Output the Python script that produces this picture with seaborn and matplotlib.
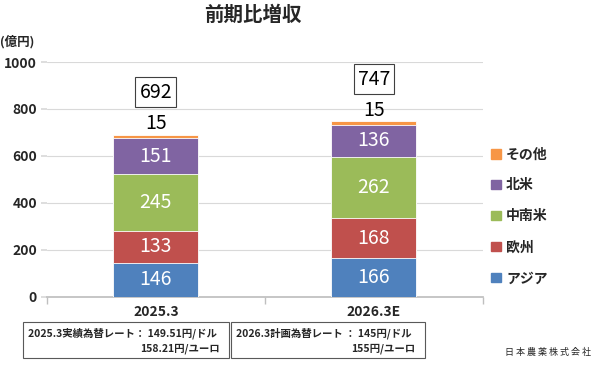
import pandas as pd
import seaborn as sns
import matplotlib.pyplot as plt
from matplotlib.patches import Rectangle, Patch

# data
periods = ['2025.3', '2026.3E']
regions = ['アジア', '欧州', '中南米', '北米', 'その他']
asia = [146, 166]
europe = [133, 168]
latam = [245, 262]
namerica = [151, 136]
other = [15, 15]
totals = [692, 747]
colors = ['#4F81BD', '#C0504D', '#9BBB59', '#8064A2', '#F79646']

sns.set_theme(style='white')
plt.rcParams['font.family'] = ['Noto Sans CJK JP', 'DejaVu Sans']

fig = plt.figure(figsize=(6, 3.67), dpi=100)
ax = fig.add_axes([0.078, 0.191, 0.727, 0.64])

values = [asia, europe, latam, namerica, other]
df = pd.DataFrame({'period': periods})
for name, v in zip(regions, values):
    df[name] = v
cum = df[regions].cumsum(axis=1)

# stacked bars: draw cumulative totals from the top segment down
for i in reversed(range(len(regions))):
    part = pd.DataFrame({'period': periods, 'y': cum[regions[i]]})
    sns.barplot(data=part, x='period', y='y', color=colors[i], saturation=1,
                width=0.39, edgecolor='white', linewidth=0.6, ax=ax, zorder=3)

# segment labels
for j in range(len(periods)):
    for i in range(len(regions) - 1):
        v = values[i][j]
        base = cum[regions[i]][j] - v
        ax.text(j, base + v / 2, str(v), ha='center', va='center',
                color='white', fontsize=14, zorder=5)
    ax.text(j, cum[regions[-1]][j] + 4, str(other[j]), ha='center',
            va='bottom', color='black', fontsize=14, zorder=5)
    ax.text(j, totals[j] + 180, str(totals[j]), ha='center', va='center',
            fontsize=14, color='black', zorder=5,
            bbox=dict(boxstyle='square,pad=0.22', fc='white', ec='#404040', lw=0.8))

ax.set_ylim(0, 1000)
ax.set_xlim(-0.5, 1.5)
ax.set_yticks(range(0, 1001, 200))
ax.set_xlabel('')
ax.set_ylabel('')
ax.yaxis.grid(True, color='#D9D9D9', lw=0.8)
ax.set_axisbelow(True)
for s in ['left', 'right', 'top']:
    ax.spines[s].set_visible(False)
ax.spines['bottom'].set_color('#BFBFBF')
ax.tick_params(axis='y', left=True, length=4, color='#D9D9D9', labelsize=10, pad=3)
ax.tick_params(axis='x', length=0, labelsize=10, pad=6)
ax.set_xticks([-0.5, 0.5, 1.5], minor=True)
ax.tick_params(axis='x', which='minor', bottom=True, length=5, color='#BFBFBF')
for lab in ax.get_yticklabels() + ax.get_xticklabels():
    lab.set_fontweight('bold')

fig.text(0.422, 0.958, '前期比増収', ha='center', va='center', fontsize=14, weight='bold')
fig.text(0.0, 0.886, '(億円)', ha='left', va='center', fontsize=9, weight='bold')

# legend
handles = [Patch(color=c) for c in colors[::-1]]
leg = fig.legend(handles, regions[::-1], loc='upper left', bbox_to_anchor=(0.818, 0.598),
                 frameon=False, handlelength=0.7, handleheight=0.7, handletextpad=0.4,
                 labelspacing=1.22, borderpad=0, borderaxespad=0,
                 prop={'size': 10, 'weight': 'bold'})

# exchange rate boxes
fig.add_artist(Rectangle((0.038, 0.0245), 0.344, 0.098, transform=fig.transFigure,
                         fill=False, ec='#595959', lw=0.8))
fig.add_artist(Rectangle((0.385, 0.0245), 0.323, 0.098, transform=fig.transFigure,
                         fill=False, ec='#595959', lw=0.8))
fig.text(0.047, 0.093, '2025.3実績為替レート： 149.51円/ドル', ha='left', va='center',
         fontsize=7.5, weight='bold')
fig.text(0.367, 0.049, '158.21円/ユーロ', ha='right', va='center', fontsize=7.5, weight='bold')
fig.text(0.393, 0.093, '2026.3計画為替レート ： 145円/ドル', ha='left', va='center',
         fontsize=7.5, weight='bold')
fig.text(0.692, 0.049, '155円/ユーロ', ha='right', va='center', fontsize=7.5, weight='bold')
fig.text(0.913, 0.04, '日 本 農 薬 株 式 会 社', ha='center', va='center', fontsize=6.5)

fig.savefig('out.png', dpi=100)
